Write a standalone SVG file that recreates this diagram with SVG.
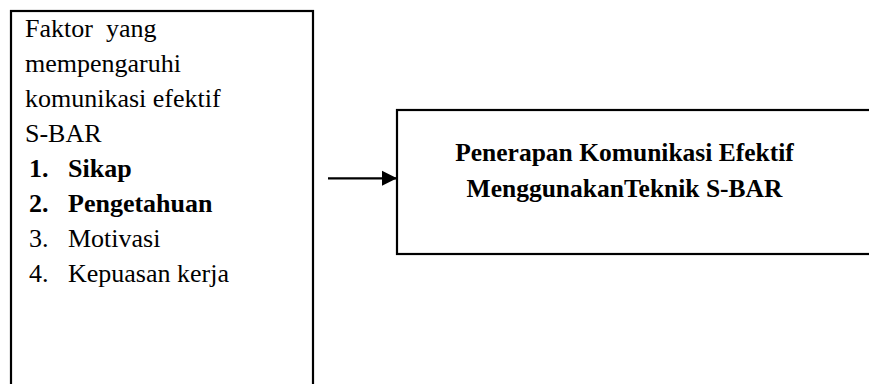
<svg xmlns="http://www.w3.org/2000/svg" width="869" height="384" viewBox="0 0 869 384">
<defs>
<style>
.box{fill:#fff;stroke:#000;stroke-width:2.2}
.t{font-family:"Liberation Serif","Times New Roman",serif;font-size:26px;fill:#000}
.r{font-size:25.5px}
.b{font-weight:bold}
.conn{stroke:#000;stroke-width:2.2;fill:none}
</style>
<marker id="ah" markerUnits="userSpaceOnUse" markerWidth="16" markerHeight="16" refX="15" refY="8" orient="auto">
<path d="M0,0.5 L15,8 L0,15.5 Z" fill="#000"/>
</marker>
</defs>
<rect width="869" height="384" fill="#fff"/>
<g id="faktor">
<rect class="box" x="11" y="11" width="302" height="390"/>
<text class="t" x="25" y="37">Faktor&#160; yang</text>
<text class="t" x="25" y="72">mempengaruhi</text>
<text class="t" x="25" y="106.5">komunikasi efektif</text>
<text class="t" x="25" y="141.5">S-BAR</text>
<text class="t b" x="29" y="176.5">1.</text><text class="t b" x="68" y="176.5">Sikap</text>
<text class="t b" x="29" y="212">2.</text><text class="t b" x="68" y="212">Pengetahuan</text>
<text class="t" x="29" y="246.5">3.</text><text class="t" x="68" y="246.5">Motivasi</text>
<text class="t" x="29" y="281.5">4.</text><text class="t" x="68" y="281.5">Kepuasan kerja</text>
</g>
<g id="penerapan">
<rect class="box" x="397" y="110" width="490" height="144"/>
<text class="t r b" x="624.5" y="161" text-anchor="middle">Penerapan Komunikasi Efektif</text>
<text class="t r b" x="624.5" y="197" text-anchor="middle">MenggunakanTeknik S-BAR</text>
</g>
<g id="connectors">
<line class="conn" x1="328" y1="178.3" x2="397" y2="178.3" marker-end="url(#ah)"/>
</g>
</svg>
